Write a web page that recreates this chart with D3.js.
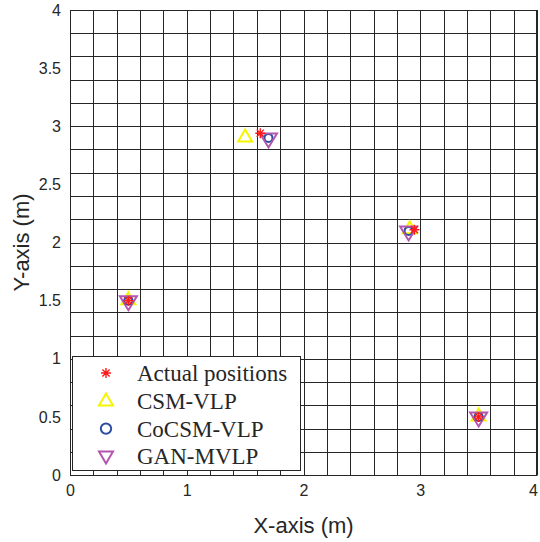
<!DOCTYPE html>
<html>
<head>
<meta charset="utf-8">
<script src="https://cdn.jsdelivr.net/npm/d3@7"></script>
<style>
  body { margin: 0; background: #fff; }
  svg { display: block; }
</style>
</head>
<body>
<div id="chart"></div>
<script>
// data
const actualX = [1.63, 2.95, 0.50, 3.50];
const actualY = [2.94, 2.11, 1.50, 0.50];
const csmX = [1.50, 2.91, 0.50, 3.50];
const csmY = [2.91, 2.12, 1.51, 0.51];
const cocsmX = [1.70, 2.90, 0.50, 3.50];
const cocsmY = [2.90, 2.10, 1.50, 0.50];
const ganX = [1.70, 2.90, 0.50, 3.50];
const ganY = [2.89, 2.09, 1.49, 0.49];
const xTicks = [0, 1, 2, 3, 4];
const yTicks = [0, 0.5, 1, 1.5, 2, 2.5, 3, 3.5, 4];
const gridStep = 0.2;
const legendLabels = ['Actual positions', 'CSM-VLP', 'CoCSM-VLP', 'GAN-MVLP'];

const width = 540, height = 542;
const margin = {top: 10, right: 3, bottom: 67, left: 70};

const svg = d3.select('#chart').append('svg')
    .attr('width', width)
    .attr('height', height);

const x = d3.scaleLinear().domain([0, 4]).range([margin.left, width - margin.right]);
const y = d3.scaleLinear().domain([0, 4]).range([height - margin.bottom, margin.top]);

// grid every 0.2
const gridVals = d3.range(0, 4 + 1e-9, gridStep);
const grid = svg.append('g').attr('class', 'grid');
grid.selectAll('line.v').data(gridVals).enter().append('line')
    .attr('x1', d => Math.round(x(d)) + 0.5).attr('x2', d => Math.round(x(d)) + 0.5)
    .attr('y1', y(0)).attr('y2', y(4))
    .attr('stroke', '#262626').attr('stroke-width', 1);
grid.selectAll('line.h').data(gridVals).enter().append('line')
    .attr('y1', d => Math.round(y(d)) + 0.5).attr('y2', d => Math.round(y(d)) + 0.5)
    .attr('x1', x(0)).attr('x2', x(4))
    .attr('stroke', '#262626').attr('stroke-width', 1);

// axes
const xAxis = svg.append('g')
    .attr('transform', `translate(0,${y(0)})`)
    .call(d3.axisBottom(x).tickValues(xTicks).tickSize(0).tickPadding(10).tickFormat(d3.format('d')));
const yAxis = svg.append('g')
    .attr('transform', `translate(${x(0)},0)`)
    .call(d3.axisLeft(y).tickValues(yTicks).tickSize(0).tickPadding(9).tickFormat(d => d));
[xAxis, yAxis].forEach(a => {
    a.select('.domain').attr('stroke', '#262626').attr('stroke-width', 1);
    a.selectAll('text')
        .attr('font-family', 'Liberation Sans, Arial, sans-serif')
        .attr('font-size', 16)
        .attr('fill', '#262626');
});
xAxis.selectAll('.tick text').filter(d => d === 4).attr('dx', -4);

// box
svg.append('rect')
    .attr('x', x(0) + 0.5).attr('y', y(4) + 0.5)
    .attr('width', x(4) - x(0) - 1).attr('height', y(0) - y(4))
    .attr('fill', 'none').attr('stroke', '#262626');

svg.append('text')
    .attr('x', (x(0) + x(4)) / 2).attr('y', 533)
    .attr('text-anchor', 'middle')
    .attr('font-family', 'Liberation Sans, Arial, sans-serif')
    .attr('font-size', 22).attr('fill', '#262626')
    .text('X-axis (m)');
svg.append('text')
    .attr('transform', `translate(29,${(y(0) + y(4)) / 2}) rotate(-90)`)
    .attr('text-anchor', 'middle')
    .attr('font-family', 'Liberation Sans, Arial, sans-serif')
    .attr('font-size', 22).attr('fill', '#262626')
    .text('Y-axis (m)');

// markers
const colors = {actual: '#ff1a1a', csm: '#f5f500', cocsm: '#2d4ea0', gan: '#b456b0'};

function triUp(w, h) { return `M0,${-h * 0.6}L${w / 2},${h * 0.4}L${-w / 2},${h * 0.4}Z`; }
function triDown(w, h) { return `M0,${h * 0.6}L${w / 2},${-h * 0.4}L${-w / 2},${-h * 0.4}Z`; }
function star(s) {
    const r = s / 2, q = r * 0.72;
    return `M${-r},0L${r},0M0,${-r}L0,${r}M${-q},${-q}L${q},${q}M${-q},${q}L${q},${-q}`;
}

function drawCsm(g, cx, cy, big) {
    const w = big ? 14 : 14, h = big ? 12 : 12;
    g.append('path').attr('d', triUp(w, h)).attr('transform', `translate(${cx},${cy})`)
        .attr('fill', 'none').attr('stroke', colors.csm).attr('stroke-width', 2);
}
function drawCocsm(g, cx, cy, big) {
    g.append('circle').attr('cx', cx).attr('cy', cy).attr('r', big ? 5.2 : 4)
        .attr('fill', 'none').attr('stroke', colors.cocsm).attr('stroke-width', 2);
}
function drawGan(g, cx, cy, big) {
    const w = big ? 14 : 17, h = big ? 12 : 14;
    g.append('path').attr('d', triDown(w, h)).attr('transform', `translate(${cx},${cy})`)
        .attr('fill', 'none').attr('stroke', colors.gan).attr('stroke-width', 2);
}
function drawActual(g, cx, cy) {
    g.append('path').attr('d', star(10)).attr('transform', `translate(${cx},${cy})`)
        .attr('fill', 'none').attr('stroke', colors.actual).attr('stroke-width', 1.4);
}

const marks = svg.append('g');
csmX.forEach((v, i) => drawCsm(marks, x(v), y(csmY[i]), false));
cocsmX.forEach((v, i) => drawCocsm(marks, x(v), y(cocsmY[i]), false));
ganX.forEach((v, i) => drawGan(marks, x(v), y(ganY[i]), false));
actualX.forEach((v, i) => drawActual(marks, x(v), y(actualY[i])));

// legend
const lg = svg.append('g').attr('transform', 'translate(72,356)');
lg.append('rect').attr('x', 0.5).attr('y', 0.5).attr('width', 228).attr('height', 114)
    .attr('fill', '#fff').attr('stroke', '#262626');
const drawers = [drawActual, drawCsm, drawCocsm, drawGan];
legendLabels.forEach((lab, i) => {
    const ry = 17 + i * 27.8;
    drawers[i](lg, 34, ry, true);
    lg.append('text')
        .attr('x', 65).attr('y', ry).attr('dy', '0.35em')
        .attr('font-family', 'Liberation Serif, Times New Roman, serif')
        .attr('font-size', 23).attr('fill', '#262626')
        .text(lab);
});
</script>
</body>
</html>
